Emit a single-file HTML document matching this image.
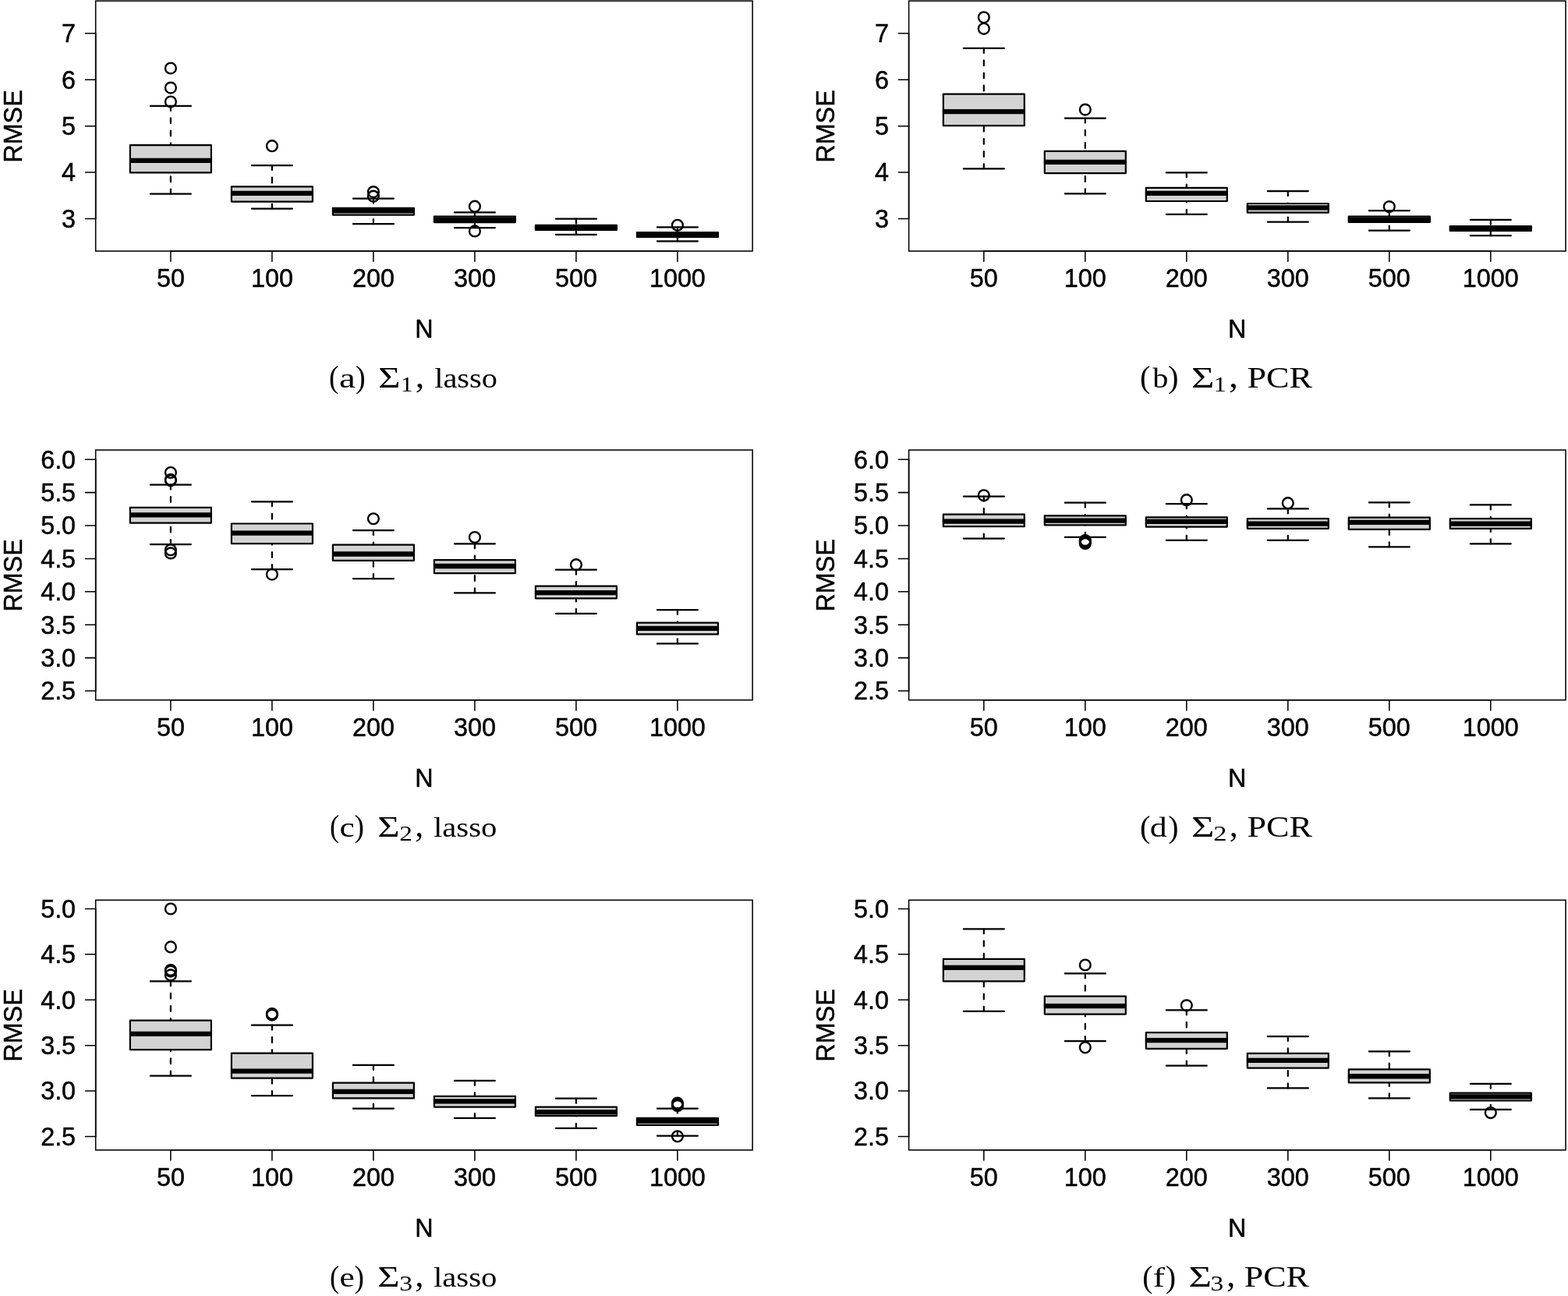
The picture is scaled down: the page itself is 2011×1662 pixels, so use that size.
<!DOCTYPE html>
<html lang="en"><head><meta charset="utf-8"><title>RMSE boxplots</title>
<style>html,body{margin:0;padding:0;background:#fff}body{width:2011px;height:1662px;overflow:hidden}svg{display:block}.s{font-family:"Liberation Sans", Arial, Helvetica, sans-serif;font-size:33px;fill:#000;stroke:#000;stroke-width:0.5px}.c{font-family:"Liberation Serif", "DejaVu Serif", serif;fill:#000}.ln{stroke:#000;stroke-width:1.55;fill:none;stroke-linecap:round}.bx{stroke:#000;stroke-width:2.2;fill:#d3d3d3;stroke-linejoin:round}.wk{stroke:#000;stroke-width:2.2;fill:none;stroke-linecap:round;stroke-dasharray:6.8 9.4;stroke-dashoffset:0.8}.st{stroke:#000;stroke-width:2.25;fill:none;stroke-linecap:round}.md{stroke:#000;stroke-width:6.3;fill:none;stroke-linecap:butt}.ot{stroke:#000;stroke-width:2.4;fill:none}</style></head><body>
<svg width="2011" height="1662" viewBox="0 0 2011 1662">
<rect x="0" y="0" width="2011" height="1662" fill="#fff"/>
<g>
<line class="wk" x1="218.9" y1="135.9" x2="218.9" y2="186.2"/>
<line class="wk" x1="218.9" y1="248.6" x2="218.9" y2="221.4"/>
<line class="st" x1="192.9" y1="135.9" x2="244.9" y2="135.9"/>
<line class="st" x1="192.9" y1="248.6" x2="244.9" y2="248.6"/>
<rect class="bx" x="166.9" y="186.2" width="104" height="35.2"/>
<line class="md" x1="166" y1="205.9" x2="271.8" y2="205.9"/>
<circle class="ot" cx="218.9" cy="87.5" r="6.9"/>
<circle class="ot" cx="218.9" cy="112.6" r="6.9"/>
<circle class="ot" cx="218.9" cy="130.5" r="6.9"/>
<line class="wk" x1="348.9" y1="212.2" x2="348.9" y2="239.4"/>
<line class="wk" x1="348.9" y1="267.5" x2="348.9" y2="258.6"/>
<line class="st" x1="322.9" y1="212.2" x2="374.9" y2="212.2"/>
<line class="st" x1="322.9" y1="267.5" x2="374.9" y2="267.5"/>
<rect class="bx" x="296.9" y="239.4" width="104" height="19.2"/>
<line class="md" x1="296" y1="247.8" x2="401.8" y2="247.8"/>
<circle class="ot" cx="348.9" cy="187.2" r="6.9"/>
<line class="wk" x1="478.9" y1="254.6" x2="478.9" y2="266.8"/>
<line class="wk" x1="478.9" y1="287.2" x2="478.9" y2="275.6"/>
<line class="st" x1="452.9" y1="254.6" x2="504.9" y2="254.6"/>
<line class="st" x1="452.9" y1="287.2" x2="504.9" y2="287.2"/>
<rect class="bx" x="426.9" y="266.8" width="104" height="8.8"/>
<line class="md" x1="426" y1="270.3" x2="531.8" y2="270.3"/>
<circle class="ot" cx="478.9" cy="246.1" r="6.9"/>
<circle class="ot" cx="478.9" cy="251.7" r="6.9"/>
<line class="wk" x1="608.9" y1="272.4" x2="608.9" y2="277.6"/>
<line class="wk" x1="608.9" y1="292" x2="608.9" y2="285.1"/>
<line class="st" x1="582.9" y1="272.4" x2="634.9" y2="272.4"/>
<line class="st" x1="582.9" y1="292" x2="634.9" y2="292"/>
<rect class="bx" x="556.9" y="277.6" width="104" height="7.5"/>
<line class="md" x1="556" y1="281.9" x2="661.8" y2="281.9"/>
<circle class="ot" cx="608.9" cy="264.7" r="6.9"/>
<circle class="ot" cx="608.9" cy="296.4" r="6.9"/>
<line class="wk" x1="738.9" y1="280.7" x2="738.9" y2="288.9"/>
<line class="wk" x1="738.9" y1="300.85" x2="738.9" y2="294.8"/>
<line class="st" x1="712.9" y1="280.7" x2="764.9" y2="280.7"/>
<line class="st" x1="712.9" y1="300.85" x2="764.9" y2="300.85"/>
<rect class="bx" x="686.9" y="288.9" width="104" height="5.9"/>
<line class="md" x1="686" y1="291.9" x2="791.8" y2="291.9"/>
<line class="wk" x1="868.9" y1="291.4" x2="868.9" y2="298.1"/>
<line class="wk" x1="868.9" y1="309.3" x2="868.9" y2="303.9"/>
<line class="st" x1="842.9" y1="291.4" x2="894.9" y2="291.4"/>
<line class="st" x1="842.9" y1="309.3" x2="894.9" y2="309.3"/>
<rect class="bx" x="816.9" y="298.1" width="104" height="5.8"/>
<line class="md" x1="816" y1="301" x2="921.8" y2="301"/>
<circle class="ot" cx="868.9" cy="288.8" r="6.9"/>
<rect class="ln" x="122.7" y="1.2" width="842.4" height="320.8"/>
<line class="ln" x1="218.9" y1="322" x2="868.9" y2="322"/>
<line class="ln" x1="122.7" y1="280.5" x2="122.7" y2="42.8"/>
<line class="ln" x1="218.9" y1="322" x2="218.9" y2="335.2"/>
<text class="s" text-anchor="middle" transform="translate(218.9 367.8) scale(0.98 1)">50</text>
<line class="ln" x1="348.9" y1="322" x2="348.9" y2="335.2"/>
<text class="s" text-anchor="middle" transform="translate(348.9 367.8) scale(0.98 1)">100</text>
<line class="ln" x1="478.9" y1="322" x2="478.9" y2="335.2"/>
<text class="s" text-anchor="middle" transform="translate(478.9 367.8) scale(0.98 1)">200</text>
<line class="ln" x1="608.9" y1="322" x2="608.9" y2="335.2"/>
<text class="s" text-anchor="middle" transform="translate(608.9 367.8) scale(0.98 1)">300</text>
<line class="ln" x1="738.9" y1="322" x2="738.9" y2="335.2"/>
<text class="s" text-anchor="middle" transform="translate(738.9 367.8) scale(0.98 1)">500</text>
<line class="ln" x1="868.9" y1="322" x2="868.9" y2="335.2"/>
<text class="s" text-anchor="middle" transform="translate(868.9 367.8) scale(0.98 1)">1000</text>
<line class="ln" x1="109.5" y1="280.5" x2="122.7" y2="280.5"/>
<text class="s" text-anchor="end" transform="translate(97.1 291.9) scale(0.98 1)">3</text>
<line class="ln" x1="109.5" y1="221.07" x2="122.7" y2="221.07"/>
<text class="s" text-anchor="end" transform="translate(97.1 232.47) scale(0.98 1)">4</text>
<line class="ln" x1="109.5" y1="161.65" x2="122.7" y2="161.65"/>
<text class="s" text-anchor="end" transform="translate(97.1 173.05) scale(0.98 1)">5</text>
<line class="ln" x1="109.5" y1="102.23" x2="122.7" y2="102.23"/>
<text class="s" text-anchor="end" transform="translate(97.1 113.63) scale(0.98 1)">6</text>
<line class="ln" x1="109.5" y1="42.8" x2="122.7" y2="42.8"/>
<text class="s" text-anchor="end" transform="translate(97.1 54.2) scale(0.98 1)">7</text>
<text class="s" text-anchor="middle" transform="translate(543.9 432.8) scale(0.98 1)">N</text>
<text class="s" text-anchor="middle" transform="translate(27.5 162) rotate(-90) scale(0.98 1)">RMSE</text>
</g>
<g>
<line class="wk" x1="1261.8" y1="61.9" x2="1261.8" y2="120.6"/>
<line class="wk" x1="1261.8" y1="216.4" x2="1261.8" y2="161.2"/>
<line class="st" x1="1235.8" y1="61.9" x2="1287.8" y2="61.9"/>
<line class="st" x1="1235.8" y1="216.4" x2="1287.8" y2="216.4"/>
<rect class="bx" x="1209.8" y="120.6" width="104" height="40.6"/>
<line class="md" x1="1208.9" y1="143.1" x2="1314.7" y2="143.1"/>
<circle class="ot" cx="1261.8" cy="22.3" r="6.9"/>
<circle class="ot" cx="1261.8" cy="36.8" r="6.9"/>
<line class="wk" x1="1391.8" y1="151.5" x2="1391.8" y2="193.8"/>
<line class="wk" x1="1391.8" y1="248.3" x2="1391.8" y2="222.1"/>
<line class="st" x1="1365.8" y1="151.5" x2="1417.8" y2="151.5"/>
<line class="st" x1="1365.8" y1="248.3" x2="1417.8" y2="248.3"/>
<rect class="bx" x="1339.8" y="193.8" width="104" height="28.3"/>
<line class="md" x1="1338.9" y1="207.8" x2="1444.7" y2="207.8"/>
<circle class="ot" cx="1391.8" cy="140.6" r="6.9"/>
<line class="wk" x1="1521.8" y1="221.3" x2="1521.8" y2="240.9"/>
<line class="wk" x1="1521.8" y1="274.8" x2="1521.8" y2="258"/>
<line class="st" x1="1495.8" y1="221.3" x2="1547.8" y2="221.3"/>
<line class="st" x1="1495.8" y1="274.8" x2="1547.8" y2="274.8"/>
<rect class="bx" x="1469.8" y="240.9" width="104" height="17.1"/>
<line class="md" x1="1468.9" y1="247.9" x2="1574.7" y2="247.9"/>
<line class="wk" x1="1651.8" y1="245.1" x2="1651.8" y2="261"/>
<line class="wk" x1="1651.8" y1="284.5" x2="1651.8" y2="272.6"/>
<line class="st" x1="1625.8" y1="245.1" x2="1677.8" y2="245.1"/>
<line class="st" x1="1625.8" y1="284.5" x2="1677.8" y2="284.5"/>
<rect class="bx" x="1599.8" y="261" width="104" height="11.6"/>
<line class="md" x1="1598.9" y1="266.4" x2="1704.7" y2="266.4"/>
<line class="wk" x1="1781.8" y1="270.1" x2="1781.8" y2="277.6"/>
<line class="wk" x1="1781.8" y1="295.5" x2="1781.8" y2="284.8"/>
<line class="st" x1="1755.8" y1="270.1" x2="1807.8" y2="270.1"/>
<line class="st" x1="1755.8" y1="295.5" x2="1807.8" y2="295.5"/>
<rect class="bx" x="1729.8" y="277.6" width="104" height="7.2"/>
<line class="md" x1="1728.9" y1="281.8" x2="1834.7" y2="281.8"/>
<circle class="ot" cx="1781.8" cy="265.1" r="6.9"/>
<line class="wk" x1="1911.8" y1="281.8" x2="1911.8" y2="290.1"/>
<line class="wk" x1="1911.8" y1="302.2" x2="1911.8" y2="295.9"/>
<line class="st" x1="1885.8" y1="281.8" x2="1937.8" y2="281.8"/>
<line class="st" x1="1885.8" y1="302.2" x2="1937.8" y2="302.2"/>
<rect class="bx" x="1859.8" y="290.1" width="104" height="5.8"/>
<line class="md" x1="1858.9" y1="293" x2="1964.7" y2="293"/>
<rect class="ln" x="1165.6" y="1.2" width="842.4" height="320.8"/>
<line class="ln" x1="1261.8" y1="322" x2="1911.8" y2="322"/>
<line class="ln" x1="1165.6" y1="280.5" x2="1165.6" y2="42.8"/>
<line class="ln" x1="1261.8" y1="322" x2="1261.8" y2="335.2"/>
<text class="s" text-anchor="middle" transform="translate(1261.8 367.8) scale(0.98 1)">50</text>
<line class="ln" x1="1391.8" y1="322" x2="1391.8" y2="335.2"/>
<text class="s" text-anchor="middle" transform="translate(1391.8 367.8) scale(0.98 1)">100</text>
<line class="ln" x1="1521.8" y1="322" x2="1521.8" y2="335.2"/>
<text class="s" text-anchor="middle" transform="translate(1521.8 367.8) scale(0.98 1)">200</text>
<line class="ln" x1="1651.8" y1="322" x2="1651.8" y2="335.2"/>
<text class="s" text-anchor="middle" transform="translate(1651.8 367.8) scale(0.98 1)">300</text>
<line class="ln" x1="1781.8" y1="322" x2="1781.8" y2="335.2"/>
<text class="s" text-anchor="middle" transform="translate(1781.8 367.8) scale(0.98 1)">500</text>
<line class="ln" x1="1911.8" y1="322" x2="1911.8" y2="335.2"/>
<text class="s" text-anchor="middle" transform="translate(1911.8 367.8) scale(0.98 1)">1000</text>
<line class="ln" x1="1152.4" y1="280.5" x2="1165.6" y2="280.5"/>
<text class="s" text-anchor="end" transform="translate(1140 291.9) scale(0.98 1)">3</text>
<line class="ln" x1="1152.4" y1="221.07" x2="1165.6" y2="221.07"/>
<text class="s" text-anchor="end" transform="translate(1140 232.47) scale(0.98 1)">4</text>
<line class="ln" x1="1152.4" y1="161.65" x2="1165.6" y2="161.65"/>
<text class="s" text-anchor="end" transform="translate(1140 173.05) scale(0.98 1)">5</text>
<line class="ln" x1="1152.4" y1="102.23" x2="1165.6" y2="102.23"/>
<text class="s" text-anchor="end" transform="translate(1140 113.63) scale(0.98 1)">6</text>
<line class="ln" x1="1152.4" y1="42.8" x2="1165.6" y2="42.8"/>
<text class="s" text-anchor="end" transform="translate(1140 54.2) scale(0.98 1)">7</text>
<text class="s" text-anchor="middle" transform="translate(1586.8 432.8) scale(0.98 1)">N</text>
<text class="s" text-anchor="middle" transform="translate(1070.4 162) rotate(-90) scale(0.98 1)">RMSE</text>
</g>
<g>
<line class="wk" x1="218.9" y1="621.6" x2="218.9" y2="650.85"/>
<line class="wk" x1="218.9" y1="698" x2="218.9" y2="670.6"/>
<line class="st" x1="192.9" y1="621.6" x2="244.9" y2="621.6"/>
<line class="st" x1="192.9" y1="698" x2="244.9" y2="698"/>
<rect class="bx" x="166.9" y="650.85" width="104" height="19.75"/>
<line class="md" x1="166" y1="660.3" x2="271.8" y2="660.3"/>
<circle class="ot" cx="218.9" cy="606" r="6.9"/>
<circle class="ot" cx="218.9" cy="615.2" r="6.9"/>
<circle class="ot" cx="218.9" cy="616.3" r="6.9"/>
<circle class="ot" cx="218.9" cy="705.3" r="6.9"/>
<circle class="ot" cx="218.9" cy="709.4" r="6.9"/>
<line class="wk" x1="348.9" y1="643.35" x2="348.9" y2="671.5"/>
<line class="wk" x1="348.9" y1="730.2" x2="348.9" y2="697.1"/>
<line class="st" x1="322.9" y1="643.35" x2="374.9" y2="643.35"/>
<line class="st" x1="322.9" y1="730.2" x2="374.9" y2="730.2"/>
<rect class="bx" x="296.9" y="671.5" width="104" height="25.6"/>
<line class="md" x1="296" y1="683.6" x2="401.8" y2="683.6"/>
<circle class="ot" cx="348.9" cy="736.6" r="6.9"/>
<line class="wk" x1="478.9" y1="680.1" x2="478.9" y2="698.7"/>
<line class="wk" x1="478.9" y1="742.05" x2="478.9" y2="718.8"/>
<line class="st" x1="452.9" y1="680.1" x2="504.9" y2="680.1"/>
<line class="st" x1="452.9" y1="742.05" x2="504.9" y2="742.05"/>
<rect class="bx" x="426.9" y="698.7" width="104" height="20.1"/>
<line class="md" x1="426" y1="710.5" x2="531.8" y2="710.5"/>
<circle class="ot" cx="478.9" cy="665.25" r="6.9"/>
<line class="wk" x1="608.9" y1="697.3" x2="608.9" y2="718.1"/>
<line class="wk" x1="608.9" y1="760.3" x2="608.9" y2="735.1"/>
<line class="st" x1="582.9" y1="697.3" x2="634.9" y2="697.3"/>
<line class="st" x1="582.9" y1="760.3" x2="634.9" y2="760.3"/>
<rect class="bx" x="556.9" y="718.1" width="104" height="17"/>
<line class="md" x1="556" y1="726" x2="661.8" y2="726"/>
<circle class="ot" cx="608.9" cy="689" r="6.9"/>
<line class="wk" x1="738.9" y1="730.7" x2="738.9" y2="751.6"/>
<line class="wk" x1="738.9" y1="786.8" x2="738.9" y2="767.3"/>
<line class="st" x1="712.9" y1="730.7" x2="764.9" y2="730.7"/>
<line class="st" x1="712.9" y1="786.8" x2="764.9" y2="786.8"/>
<rect class="bx" x="686.9" y="751.6" width="104" height="15.7"/>
<line class="md" x1="686" y1="760.2" x2="791.8" y2="760.2"/>
<circle class="ot" cx="738.9" cy="724.2" r="6.9"/>
<line class="wk" x1="868.9" y1="782" x2="868.9" y2="798.6"/>
<line class="wk" x1="868.9" y1="825.45" x2="868.9" y2="813.4"/>
<line class="st" x1="842.9" y1="782" x2="894.9" y2="782"/>
<line class="st" x1="842.9" y1="825.45" x2="894.9" y2="825.45"/>
<rect class="bx" x="816.9" y="798.6" width="104" height="14.8"/>
<line class="md" x1="816" y1="805.9" x2="921.8" y2="805.9"/>
<rect class="ln" x="122.7" y="577.1" width="842.4" height="320.6"/>
<line class="ln" x1="218.9" y1="897.7" x2="868.9" y2="897.7"/>
<line class="ln" x1="122.7" y1="886" x2="122.7" y2="589.2"/>
<line class="ln" x1="218.9" y1="897.7" x2="218.9" y2="910.9"/>
<text class="s" text-anchor="middle" transform="translate(218.9 943.5) scale(0.98 1)">50</text>
<line class="ln" x1="348.9" y1="897.7" x2="348.9" y2="910.9"/>
<text class="s" text-anchor="middle" transform="translate(348.9 943.5) scale(0.98 1)">100</text>
<line class="ln" x1="478.9" y1="897.7" x2="478.9" y2="910.9"/>
<text class="s" text-anchor="middle" transform="translate(478.9 943.5) scale(0.98 1)">200</text>
<line class="ln" x1="608.9" y1="897.7" x2="608.9" y2="910.9"/>
<text class="s" text-anchor="middle" transform="translate(608.9 943.5) scale(0.98 1)">300</text>
<line class="ln" x1="738.9" y1="897.7" x2="738.9" y2="910.9"/>
<text class="s" text-anchor="middle" transform="translate(738.9 943.5) scale(0.98 1)">500</text>
<line class="ln" x1="868.9" y1="897.7" x2="868.9" y2="910.9"/>
<text class="s" text-anchor="middle" transform="translate(868.9 943.5) scale(0.98 1)">1000</text>
<line class="ln" x1="109.5" y1="886" x2="122.7" y2="886"/>
<text class="s" text-anchor="end" transform="translate(97.1 897.4) scale(0.98 1)">2.5</text>
<line class="ln" x1="109.5" y1="843.6" x2="122.7" y2="843.6"/>
<text class="s" text-anchor="end" transform="translate(97.1 855) scale(0.98 1)">3.0</text>
<line class="ln" x1="109.5" y1="801.2" x2="122.7" y2="801.2"/>
<text class="s" text-anchor="end" transform="translate(97.1 812.6) scale(0.98 1)">3.5</text>
<line class="ln" x1="109.5" y1="758.8" x2="122.7" y2="758.8"/>
<text class="s" text-anchor="end" transform="translate(97.1 770.2) scale(0.98 1)">4.0</text>
<line class="ln" x1="109.5" y1="716.4" x2="122.7" y2="716.4"/>
<text class="s" text-anchor="end" transform="translate(97.1 727.8) scale(0.98 1)">4.5</text>
<line class="ln" x1="109.5" y1="674" x2="122.7" y2="674"/>
<text class="s" text-anchor="end" transform="translate(97.1 685.4) scale(0.98 1)">5.0</text>
<line class="ln" x1="109.5" y1="631.6" x2="122.7" y2="631.6"/>
<text class="s" text-anchor="end" transform="translate(97.1 643) scale(0.98 1)">5.5</text>
<line class="ln" x1="109.5" y1="589.2" x2="122.7" y2="589.2"/>
<text class="s" text-anchor="end" transform="translate(97.1 600.6) scale(0.98 1)">6.0</text>
<text class="s" text-anchor="middle" transform="translate(543.9 1008.5) scale(0.98 1)">N</text>
<text class="s" text-anchor="middle" transform="translate(27.5 737.8) rotate(-90) scale(0.98 1)">RMSE</text>
</g>
<g>
<line class="wk" x1="1261.8" y1="636.7" x2="1261.8" y2="659.7"/>
<line class="wk" x1="1261.8" y1="690.5" x2="1261.8" y2="675.2"/>
<line class="st" x1="1235.8" y1="636.7" x2="1287.8" y2="636.7"/>
<line class="st" x1="1235.8" y1="690.5" x2="1287.8" y2="690.5"/>
<rect class="bx" x="1209.8" y="659.7" width="104" height="15.5"/>
<line class="md" x1="1208.9" y1="668.7" x2="1314.7" y2="668.7"/>
<circle class="ot" cx="1261.8" cy="635.3" r="6.9"/>
<line class="wk" x1="1391.8" y1="644.7" x2="1391.8" y2="661.4"/>
<line class="wk" x1="1391.8" y1="688.9" x2="1391.8" y2="673.4"/>
<line class="st" x1="1365.8" y1="644.7" x2="1417.8" y2="644.7"/>
<line class="st" x1="1365.8" y1="688.9" x2="1417.8" y2="688.9"/>
<rect class="bx" x="1339.8" y="661.4" width="104" height="12"/>
<line class="md" x1="1338.9" y1="667.7" x2="1444.7" y2="667.7"/>
<circle class="ot" cx="1391.8" cy="693.1" r="6.9"/>
<circle class="ot" cx="1391.8" cy="695" r="6.9"/>
<circle class="ot" cx="1391.8" cy="697" r="6.9"/>
<line class="wk" x1="1521.8" y1="646.2" x2="1521.8" y2="663.3"/>
<line class="wk" x1="1521.8" y1="692.8" x2="1521.8" y2="675.6"/>
<line class="st" x1="1495.8" y1="646.2" x2="1547.8" y2="646.2"/>
<line class="st" x1="1495.8" y1="692.8" x2="1547.8" y2="692.8"/>
<rect class="bx" x="1469.8" y="663.3" width="104" height="12.3"/>
<line class="md" x1="1468.9" y1="668.9" x2="1574.7" y2="668.9"/>
<circle class="ot" cx="1521.8" cy="641.2" r="6.9"/>
<line class="wk" x1="1651.8" y1="652.45" x2="1651.8" y2="665.2"/>
<line class="wk" x1="1651.8" y1="692.8" x2="1651.8" y2="677.8"/>
<line class="st" x1="1625.8" y1="652.45" x2="1677.8" y2="652.45"/>
<line class="st" x1="1625.8" y1="692.8" x2="1677.8" y2="692.8"/>
<rect class="bx" x="1599.8" y="665.2" width="104" height="12.6"/>
<line class="md" x1="1598.9" y1="671.7" x2="1704.7" y2="671.7"/>
<circle class="ot" cx="1651.8" cy="645.2" r="6.9"/>
<line class="wk" x1="1781.8" y1="644.3" x2="1781.8" y2="663.6"/>
<line class="wk" x1="1781.8" y1="701.3" x2="1781.8" y2="678.8"/>
<line class="st" x1="1755.8" y1="644.3" x2="1807.8" y2="644.3"/>
<line class="st" x1="1755.8" y1="701.3" x2="1807.8" y2="701.3"/>
<rect class="bx" x="1729.8" y="663.6" width="104" height="15.2"/>
<line class="md" x1="1728.9" y1="669.9" x2="1834.7" y2="669.9"/>
<line class="wk" x1="1911.8" y1="647.4" x2="1911.8" y2="665.2"/>
<line class="wk" x1="1911.8" y1="697.3" x2="1911.8" y2="677.9"/>
<line class="st" x1="1885.8" y1="647.4" x2="1937.8" y2="647.4"/>
<line class="st" x1="1885.8" y1="697.3" x2="1937.8" y2="697.3"/>
<rect class="bx" x="1859.8" y="665.2" width="104" height="12.7"/>
<line class="md" x1="1858.9" y1="671.7" x2="1964.7" y2="671.7"/>
<rect class="ln" x="1165.6" y="577.1" width="842.4" height="320.6"/>
<line class="ln" x1="1261.8" y1="897.7" x2="1911.8" y2="897.7"/>
<line class="ln" x1="1165.6" y1="886" x2="1165.6" y2="589.2"/>
<line class="ln" x1="1261.8" y1="897.7" x2="1261.8" y2="910.9"/>
<text class="s" text-anchor="middle" transform="translate(1261.8 943.5) scale(0.98 1)">50</text>
<line class="ln" x1="1391.8" y1="897.7" x2="1391.8" y2="910.9"/>
<text class="s" text-anchor="middle" transform="translate(1391.8 943.5) scale(0.98 1)">100</text>
<line class="ln" x1="1521.8" y1="897.7" x2="1521.8" y2="910.9"/>
<text class="s" text-anchor="middle" transform="translate(1521.8 943.5) scale(0.98 1)">200</text>
<line class="ln" x1="1651.8" y1="897.7" x2="1651.8" y2="910.9"/>
<text class="s" text-anchor="middle" transform="translate(1651.8 943.5) scale(0.98 1)">300</text>
<line class="ln" x1="1781.8" y1="897.7" x2="1781.8" y2="910.9"/>
<text class="s" text-anchor="middle" transform="translate(1781.8 943.5) scale(0.98 1)">500</text>
<line class="ln" x1="1911.8" y1="897.7" x2="1911.8" y2="910.9"/>
<text class="s" text-anchor="middle" transform="translate(1911.8 943.5) scale(0.98 1)">1000</text>
<line class="ln" x1="1152.4" y1="886" x2="1165.6" y2="886"/>
<text class="s" text-anchor="end" transform="translate(1140 897.4) scale(0.98 1)">2.5</text>
<line class="ln" x1="1152.4" y1="843.6" x2="1165.6" y2="843.6"/>
<text class="s" text-anchor="end" transform="translate(1140 855) scale(0.98 1)">3.0</text>
<line class="ln" x1="1152.4" y1="801.2" x2="1165.6" y2="801.2"/>
<text class="s" text-anchor="end" transform="translate(1140 812.6) scale(0.98 1)">3.5</text>
<line class="ln" x1="1152.4" y1="758.8" x2="1165.6" y2="758.8"/>
<text class="s" text-anchor="end" transform="translate(1140 770.2) scale(0.98 1)">4.0</text>
<line class="ln" x1="1152.4" y1="716.4" x2="1165.6" y2="716.4"/>
<text class="s" text-anchor="end" transform="translate(1140 727.8) scale(0.98 1)">4.5</text>
<line class="ln" x1="1152.4" y1="674" x2="1165.6" y2="674"/>
<text class="s" text-anchor="end" transform="translate(1140 685.4) scale(0.98 1)">5.0</text>
<line class="ln" x1="1152.4" y1="631.6" x2="1165.6" y2="631.6"/>
<text class="s" text-anchor="end" transform="translate(1140 643) scale(0.98 1)">5.5</text>
<line class="ln" x1="1152.4" y1="589.2" x2="1165.6" y2="589.2"/>
<text class="s" text-anchor="end" transform="translate(1140 600.6) scale(0.98 1)">6.0</text>
<text class="s" text-anchor="middle" transform="translate(1586.8 1008.5) scale(0.98 1)">N</text>
<text class="s" text-anchor="middle" transform="translate(1070.4 737.8) rotate(-90) scale(0.98 1)">RMSE</text>
</g>
<g>
<line class="wk" x1="218.9" y1="1258.4" x2="218.9" y2="1308.6"/>
<line class="wk" x1="218.9" y1="1379.5" x2="218.9" y2="1346.2"/>
<line class="st" x1="192.9" y1="1258.4" x2="244.9" y2="1258.4"/>
<line class="st" x1="192.9" y1="1379.5" x2="244.9" y2="1379.5"/>
<rect class="bx" x="166.9" y="1308.6" width="104" height="37.6"/>
<line class="md" x1="166" y1="1325.8" x2="271.8" y2="1325.8"/>
<circle class="ot" cx="218.9" cy="1165.5" r="6.9"/>
<circle class="ot" cx="218.9" cy="1214.45" r="6.9"/>
<circle class="ot" cx="218.9" cy="1244" r="6.9"/>
<circle class="ot" cx="218.9" cy="1245.6" r="6.9"/>
<circle class="ot" cx="218.9" cy="1250.4" r="6.9"/>
<line class="wk" x1="348.9" y1="1314.7" x2="348.9" y2="1350.55"/>
<line class="wk" x1="348.9" y1="1405" x2="348.9" y2="1382.6"/>
<line class="st" x1="322.9" y1="1314.7" x2="374.9" y2="1314.7"/>
<line class="st" x1="322.9" y1="1405" x2="374.9" y2="1405"/>
<rect class="bx" x="296.9" y="1350.55" width="104" height="32.05"/>
<line class="md" x1="296" y1="1373.55" x2="401.8" y2="1373.55"/>
<circle class="ot" cx="348.9" cy="1300" r="6.9"/>
<circle class="ot" cx="348.9" cy="1301.6" r="6.9"/>
<line class="wk" x1="478.9" y1="1365.9" x2="478.9" y2="1388.6"/>
<line class="wk" x1="478.9" y1="1421.6" x2="478.9" y2="1408.4"/>
<line class="st" x1="452.9" y1="1365.9" x2="504.9" y2="1365.9"/>
<line class="st" x1="452.9" y1="1421.6" x2="504.9" y2="1421.6"/>
<rect class="bx" x="426.9" y="1388.6" width="104" height="19.8"/>
<line class="md" x1="426" y1="1399.9" x2="531.8" y2="1399.9"/>
<line class="wk" x1="608.9" y1="1385.8" x2="608.9" y2="1405.9"/>
<line class="wk" x1="608.9" y1="1433.9" x2="608.9" y2="1419.6"/>
<line class="st" x1="582.9" y1="1385.8" x2="634.9" y2="1385.8"/>
<line class="st" x1="582.9" y1="1433.9" x2="634.9" y2="1433.9"/>
<rect class="bx" x="556.9" y="1405.9" width="104" height="13.7"/>
<line class="md" x1="556" y1="1412.3" x2="661.8" y2="1412.3"/>
<line class="wk" x1="738.9" y1="1408.7" x2="738.9" y2="1419.6"/>
<line class="wk" x1="738.9" y1="1446.8" x2="738.9" y2="1430.9"/>
<line class="st" x1="712.9" y1="1408.7" x2="764.9" y2="1408.7"/>
<line class="st" x1="712.9" y1="1446.8" x2="764.9" y2="1446.8"/>
<rect class="bx" x="686.9" y="1419.6" width="104" height="11.3"/>
<line class="md" x1="686" y1="1426.2" x2="791.8" y2="1426.2"/>
<line class="wk" x1="868.9" y1="1421.5" x2="868.9" y2="1433.8"/>
<line class="wk" x1="868.9" y1="1456.5" x2="868.9" y2="1442.8"/>
<line class="st" x1="842.9" y1="1421.5" x2="894.9" y2="1421.5"/>
<line class="st" x1="842.9" y1="1456.5" x2="894.9" y2="1456.5"/>
<rect class="bx" x="816.9" y="1433.8" width="104" height="9"/>
<line class="md" x1="816" y1="1437.6" x2="921.8" y2="1437.6"/>
<circle class="ot" cx="868.9" cy="1414.6" r="6.9"/>
<circle class="ot" cx="868.9" cy="1416.3" r="6.9"/>
<circle class="ot" cx="868.9" cy="1417.9" r="6.9"/>
<circle class="ot" cx="868.9" cy="1457.25" r="6.9"/>
<rect class="ln" x="122.7" y="1154.3" width="842.4" height="320.5"/>
<line class="ln" x1="218.9" y1="1474.8" x2="868.9" y2="1474.8"/>
<line class="ln" x1="122.7" y1="1457.5" x2="122.7" y2="1165.4"/>
<line class="ln" x1="218.9" y1="1474.8" x2="218.9" y2="1488"/>
<text class="s" text-anchor="middle" transform="translate(218.9 1520.6) scale(0.98 1)">50</text>
<line class="ln" x1="348.9" y1="1474.8" x2="348.9" y2="1488"/>
<text class="s" text-anchor="middle" transform="translate(348.9 1520.6) scale(0.98 1)">100</text>
<line class="ln" x1="478.9" y1="1474.8" x2="478.9" y2="1488"/>
<text class="s" text-anchor="middle" transform="translate(478.9 1520.6) scale(0.98 1)">200</text>
<line class="ln" x1="608.9" y1="1474.8" x2="608.9" y2="1488"/>
<text class="s" text-anchor="middle" transform="translate(608.9 1520.6) scale(0.98 1)">300</text>
<line class="ln" x1="738.9" y1="1474.8" x2="738.9" y2="1488"/>
<text class="s" text-anchor="middle" transform="translate(738.9 1520.6) scale(0.98 1)">500</text>
<line class="ln" x1="868.9" y1="1474.8" x2="868.9" y2="1488"/>
<text class="s" text-anchor="middle" transform="translate(868.9 1520.6) scale(0.98 1)">1000</text>
<line class="ln" x1="109.5" y1="1457.5" x2="122.7" y2="1457.5"/>
<text class="s" text-anchor="end" transform="translate(97.1 1468.9) scale(0.98 1)">2.5</text>
<line class="ln" x1="109.5" y1="1399.08" x2="122.7" y2="1399.08"/>
<text class="s" text-anchor="end" transform="translate(97.1 1410.48) scale(0.98 1)">3.0</text>
<line class="ln" x1="109.5" y1="1340.66" x2="122.7" y2="1340.66"/>
<text class="s" text-anchor="end" transform="translate(97.1 1352.06) scale(0.98 1)">3.5</text>
<line class="ln" x1="109.5" y1="1282.24" x2="122.7" y2="1282.24"/>
<text class="s" text-anchor="end" transform="translate(97.1 1293.64) scale(0.98 1)">4.0</text>
<line class="ln" x1="109.5" y1="1223.82" x2="122.7" y2="1223.82"/>
<text class="s" text-anchor="end" transform="translate(97.1 1235.22) scale(0.98 1)">4.5</text>
<line class="ln" x1="109.5" y1="1165.4" x2="122.7" y2="1165.4"/>
<text class="s" text-anchor="end" transform="translate(97.1 1176.8) scale(0.98 1)">5.0</text>
<text class="s" text-anchor="middle" transform="translate(543.9 1585.6) scale(0.98 1)">N</text>
<text class="s" text-anchor="middle" transform="translate(27.5 1314.95) rotate(-90) scale(0.98 1)">RMSE</text>
</g>
<g>
<line class="wk" x1="1261.8" y1="1191.25" x2="1261.8" y2="1229.9"/>
<line class="wk" x1="1261.8" y1="1296.9" x2="1261.8" y2="1258.35"/>
<line class="st" x1="1235.8" y1="1191.25" x2="1287.8" y2="1191.25"/>
<line class="st" x1="1235.8" y1="1296.9" x2="1287.8" y2="1296.9"/>
<rect class="bx" x="1209.8" y="1229.9" width="104" height="28.45"/>
<line class="md" x1="1208.9" y1="1240.9" x2="1314.7" y2="1240.9"/>
<line class="wk" x1="1391.8" y1="1248.4" x2="1391.8" y2="1277.6"/>
<line class="wk" x1="1391.8" y1="1335.1" x2="1391.8" y2="1300.6"/>
<line class="st" x1="1365.8" y1="1248.4" x2="1417.8" y2="1248.4"/>
<line class="st" x1="1365.8" y1="1335.1" x2="1417.8" y2="1335.1"/>
<rect class="bx" x="1339.8" y="1277.6" width="104" height="23"/>
<line class="md" x1="1338.9" y1="1290.15" x2="1444.7" y2="1290.15"/>
<circle class="ot" cx="1391.8" cy="1237.5" r="6.9"/>
<circle class="ot" cx="1391.8" cy="1343.3" r="6.9"/>
<line class="wk" x1="1521.8" y1="1295.4" x2="1521.8" y2="1324.1"/>
<line class="wk" x1="1521.8" y1="1366.5" x2="1521.8" y2="1344.8"/>
<line class="st" x1="1495.8" y1="1295.4" x2="1547.8" y2="1295.4"/>
<line class="st" x1="1495.8" y1="1366.5" x2="1547.8" y2="1366.5"/>
<rect class="bx" x="1469.8" y="1324.1" width="104" height="20.7"/>
<line class="md" x1="1468.9" y1="1334.2" x2="1574.7" y2="1334.2"/>
<circle class="ot" cx="1521.8" cy="1289.35" r="6.9"/>
<line class="wk" x1="1651.8" y1="1329" x2="1651.8" y2="1350.8"/>
<line class="wk" x1="1651.8" y1="1395.4" x2="1651.8" y2="1369.6"/>
<line class="st" x1="1625.8" y1="1329" x2="1677.8" y2="1329"/>
<line class="st" x1="1625.8" y1="1395.4" x2="1677.8" y2="1395.4"/>
<rect class="bx" x="1599.8" y="1350.8" width="104" height="18.8"/>
<line class="md" x1="1598.9" y1="1359.8" x2="1704.7" y2="1359.8"/>
<line class="wk" x1="1781.8" y1="1348.3" x2="1781.8" y2="1371.45"/>
<line class="wk" x1="1781.8" y1="1408.4" x2="1781.8" y2="1388.4"/>
<line class="st" x1="1755.8" y1="1348.3" x2="1807.8" y2="1348.3"/>
<line class="st" x1="1755.8" y1="1408.4" x2="1807.8" y2="1408.4"/>
<rect class="bx" x="1729.8" y="1371.45" width="104" height="16.95"/>
<line class="md" x1="1728.9" y1="1380.25" x2="1834.7" y2="1380.25"/>
<line class="wk" x1="1911.8" y1="1389.8" x2="1911.8" y2="1401.6"/>
<line class="wk" x1="1911.8" y1="1422.9" x2="1911.8" y2="1411.5"/>
<line class="st" x1="1885.8" y1="1389.8" x2="1937.8" y2="1389.8"/>
<line class="st" x1="1885.8" y1="1422.9" x2="1937.8" y2="1422.9"/>
<rect class="bx" x="1859.8" y="1401.6" width="104" height="9.9"/>
<line class="md" x1="1858.9" y1="1406.4" x2="1964.7" y2="1406.4"/>
<circle class="ot" cx="1911.8" cy="1427.05" r="6.9"/>
<rect class="ln" x="1165.6" y="1154.3" width="842.4" height="320.5"/>
<line class="ln" x1="1261.8" y1="1474.8" x2="1911.8" y2="1474.8"/>
<line class="ln" x1="1165.6" y1="1457.5" x2="1165.6" y2="1165.4"/>
<line class="ln" x1="1261.8" y1="1474.8" x2="1261.8" y2="1488"/>
<text class="s" text-anchor="middle" transform="translate(1261.8 1520.6) scale(0.98 1)">50</text>
<line class="ln" x1="1391.8" y1="1474.8" x2="1391.8" y2="1488"/>
<text class="s" text-anchor="middle" transform="translate(1391.8 1520.6) scale(0.98 1)">100</text>
<line class="ln" x1="1521.8" y1="1474.8" x2="1521.8" y2="1488"/>
<text class="s" text-anchor="middle" transform="translate(1521.8 1520.6) scale(0.98 1)">200</text>
<line class="ln" x1="1651.8" y1="1474.8" x2="1651.8" y2="1488"/>
<text class="s" text-anchor="middle" transform="translate(1651.8 1520.6) scale(0.98 1)">300</text>
<line class="ln" x1="1781.8" y1="1474.8" x2="1781.8" y2="1488"/>
<text class="s" text-anchor="middle" transform="translate(1781.8 1520.6) scale(0.98 1)">500</text>
<line class="ln" x1="1911.8" y1="1474.8" x2="1911.8" y2="1488"/>
<text class="s" text-anchor="middle" transform="translate(1911.8 1520.6) scale(0.98 1)">1000</text>
<line class="ln" x1="1152.4" y1="1457.5" x2="1165.6" y2="1457.5"/>
<text class="s" text-anchor="end" transform="translate(1140 1468.9) scale(0.98 1)">2.5</text>
<line class="ln" x1="1152.4" y1="1399.08" x2="1165.6" y2="1399.08"/>
<text class="s" text-anchor="end" transform="translate(1140 1410.48) scale(0.98 1)">3.0</text>
<line class="ln" x1="1152.4" y1="1340.66" x2="1165.6" y2="1340.66"/>
<text class="s" text-anchor="end" transform="translate(1140 1352.06) scale(0.98 1)">3.5</text>
<line class="ln" x1="1152.4" y1="1282.24" x2="1165.6" y2="1282.24"/>
<text class="s" text-anchor="end" transform="translate(1140 1293.64) scale(0.98 1)">4.0</text>
<line class="ln" x1="1152.4" y1="1223.82" x2="1165.6" y2="1223.82"/>
<text class="s" text-anchor="end" transform="translate(1140 1235.22) scale(0.98 1)">4.5</text>
<line class="ln" x1="1152.4" y1="1165.4" x2="1165.6" y2="1165.4"/>
<text class="s" text-anchor="end" transform="translate(1140 1176.8) scale(0.98 1)">5.0</text>
<text class="s" text-anchor="middle" transform="translate(1586.8 1585.6) scale(0.98 1)">N</text>
<text class="s" text-anchor="middle" transform="translate(1070.4 1314.95) rotate(-90) scale(0.98 1)">RMSE</text>
</g>
<text class="c"><tspan x="422.11" y="497.4" font-size="41" textLength="12.43" lengthAdjust="spacingAndGlyphs">(</tspan><tspan x="435.12" y="496.8" font-size="36" textLength="20.83" lengthAdjust="spacingAndGlyphs">a</tspan><tspan x="455.96" y="497.4" font-size="41" textLength="12.68" lengthAdjust="spacingAndGlyphs">)</tspan> <tspan x="485.17" y="496.8" font-size="37.62" textLength="28.15" lengthAdjust="spacingAndGlyphs">Σ</tspan><tspan x="514" y="502" font-size="26.5" textLength="15.57" lengthAdjust="spacingAndGlyphs">1</tspan><tspan x="532.66" y="496.8" font-size="44.28" textLength="11.5" lengthAdjust="spacingAndGlyphs">,</tspan> <tspan x="557.19" y="496.8" font-size="36" textLength="80.72" lengthAdjust="spacingAndGlyphs">lasso</tspan></text>
<text class="c"><tspan x="1461.98" y="497.4" font-size="41" textLength="13.45" lengthAdjust="spacingAndGlyphs">(</tspan><tspan x="1478.3" y="496.8" font-size="36" textLength="20.11" lengthAdjust="spacingAndGlyphs">b</tspan><tspan x="1497.99" y="497.4" font-size="41" textLength="13.45" lengthAdjust="spacingAndGlyphs">)</tspan> <tspan x="1527.98" y="496.8" font-size="37.62" textLength="29.34" lengthAdjust="spacingAndGlyphs">Σ</tspan><tspan x="1556.47" y="502" font-size="26.5" textLength="16.29" lengthAdjust="spacingAndGlyphs">1</tspan><tspan x="1575.98" y="496.8" font-size="44.28" textLength="12" lengthAdjust="spacingAndGlyphs">,</tspan> <tspan x="1599.47" y="496.8" font-size="37.62" textLength="83.53" lengthAdjust="spacingAndGlyphs">PCR</tspan></text>
<text class="c"><tspan x="422.94" y="1073.4" font-size="41" textLength="12.17" lengthAdjust="spacingAndGlyphs">(</tspan><tspan x="435.57" y="1072.8" font-size="36" textLength="19.2" lengthAdjust="spacingAndGlyphs">c</tspan><tspan x="454.48" y="1073.4" font-size="41" textLength="12.43" lengthAdjust="spacingAndGlyphs">)</tspan> <tspan x="484.16" y="1072.8" font-size="37.62" textLength="28.27" lengthAdjust="spacingAndGlyphs">Σ</tspan><tspan x="512.27" y="1078" font-size="26.5" textLength="16.62" lengthAdjust="spacingAndGlyphs">2</tspan><tspan x="532.24" y="1072.8" font-size="44.28" textLength="11" lengthAdjust="spacingAndGlyphs">,</tspan> <tspan x="555.99" y="1072.8" font-size="36" textLength="81.34" lengthAdjust="spacingAndGlyphs">lasso</tspan></text>
<text class="c"><tspan x="1461.98" y="1073.5" font-size="41" textLength="13.45" lengthAdjust="spacingAndGlyphs">(</tspan><tspan x="1474.75" y="1072.9" font-size="36" textLength="21.89" lengthAdjust="spacingAndGlyphs">d</tspan><tspan x="1498.21" y="1073.5" font-size="41" textLength="13.2" lengthAdjust="spacingAndGlyphs">)</tspan> <tspan x="1527.98" y="1072.9" font-size="37.62" textLength="29.34" lengthAdjust="spacingAndGlyphs">Σ</tspan><tspan x="1556.22" y="1078.1" font-size="26.5" textLength="17.25" lengthAdjust="spacingAndGlyphs">2</tspan><tspan x="1576.74" y="1072.9" font-size="44.28" textLength="11" lengthAdjust="spacingAndGlyphs">,</tspan> <tspan x="1599.47" y="1072.9" font-size="37.62" textLength="83.53" lengthAdjust="spacingAndGlyphs">PCR</tspan></text>
<text class="c"><tspan x="422.94" y="1650.5" font-size="41" textLength="12.17" lengthAdjust="spacingAndGlyphs">(</tspan><tspan x="435.57" y="1649.9" font-size="36" textLength="19.2" lengthAdjust="spacingAndGlyphs">e</tspan><tspan x="454.48" y="1650.5" font-size="41" textLength="12.43" lengthAdjust="spacingAndGlyphs">)</tspan> <tspan x="484.16" y="1649.9" font-size="37.62" textLength="28.27" lengthAdjust="spacingAndGlyphs">Σ</tspan><tspan x="512.22" y="1655.1" font-size="26.5" textLength="16.83" lengthAdjust="spacingAndGlyphs">3</tspan><tspan x="532.19" y="1649.9" font-size="44.28" textLength="11.33" lengthAdjust="spacingAndGlyphs">,</tspan> <tspan x="555.99" y="1649.9" font-size="36" textLength="81.34" lengthAdjust="spacingAndGlyphs">lasso</tspan></text>
<text class="c"><tspan x="1465.33" y="1650.6" font-size="41" textLength="13.07" lengthAdjust="spacingAndGlyphs">(</tspan><tspan x="1478.73" y="1650" font-size="36" textLength="15.21" lengthAdjust="spacingAndGlyphs">f</tspan><tspan x="1494.7" y="1650.6" font-size="41" textLength="13.32" lengthAdjust="spacingAndGlyphs">)</tspan> <tspan x="1524.58" y="1650" font-size="37.62" textLength="29.46" lengthAdjust="spacingAndGlyphs">Σ</tspan><tspan x="1552.43" y="1655.2" font-size="26.5" textLength="16.71" lengthAdjust="spacingAndGlyphs">3</tspan><tspan x="1573.09" y="1650" font-size="44.28" textLength="11.33" lengthAdjust="spacingAndGlyphs">,</tspan> <tspan x="1595.68" y="1650" font-size="37.62" textLength="83.13" lengthAdjust="spacingAndGlyphs">PCR</tspan></text>
</svg></body></html>
